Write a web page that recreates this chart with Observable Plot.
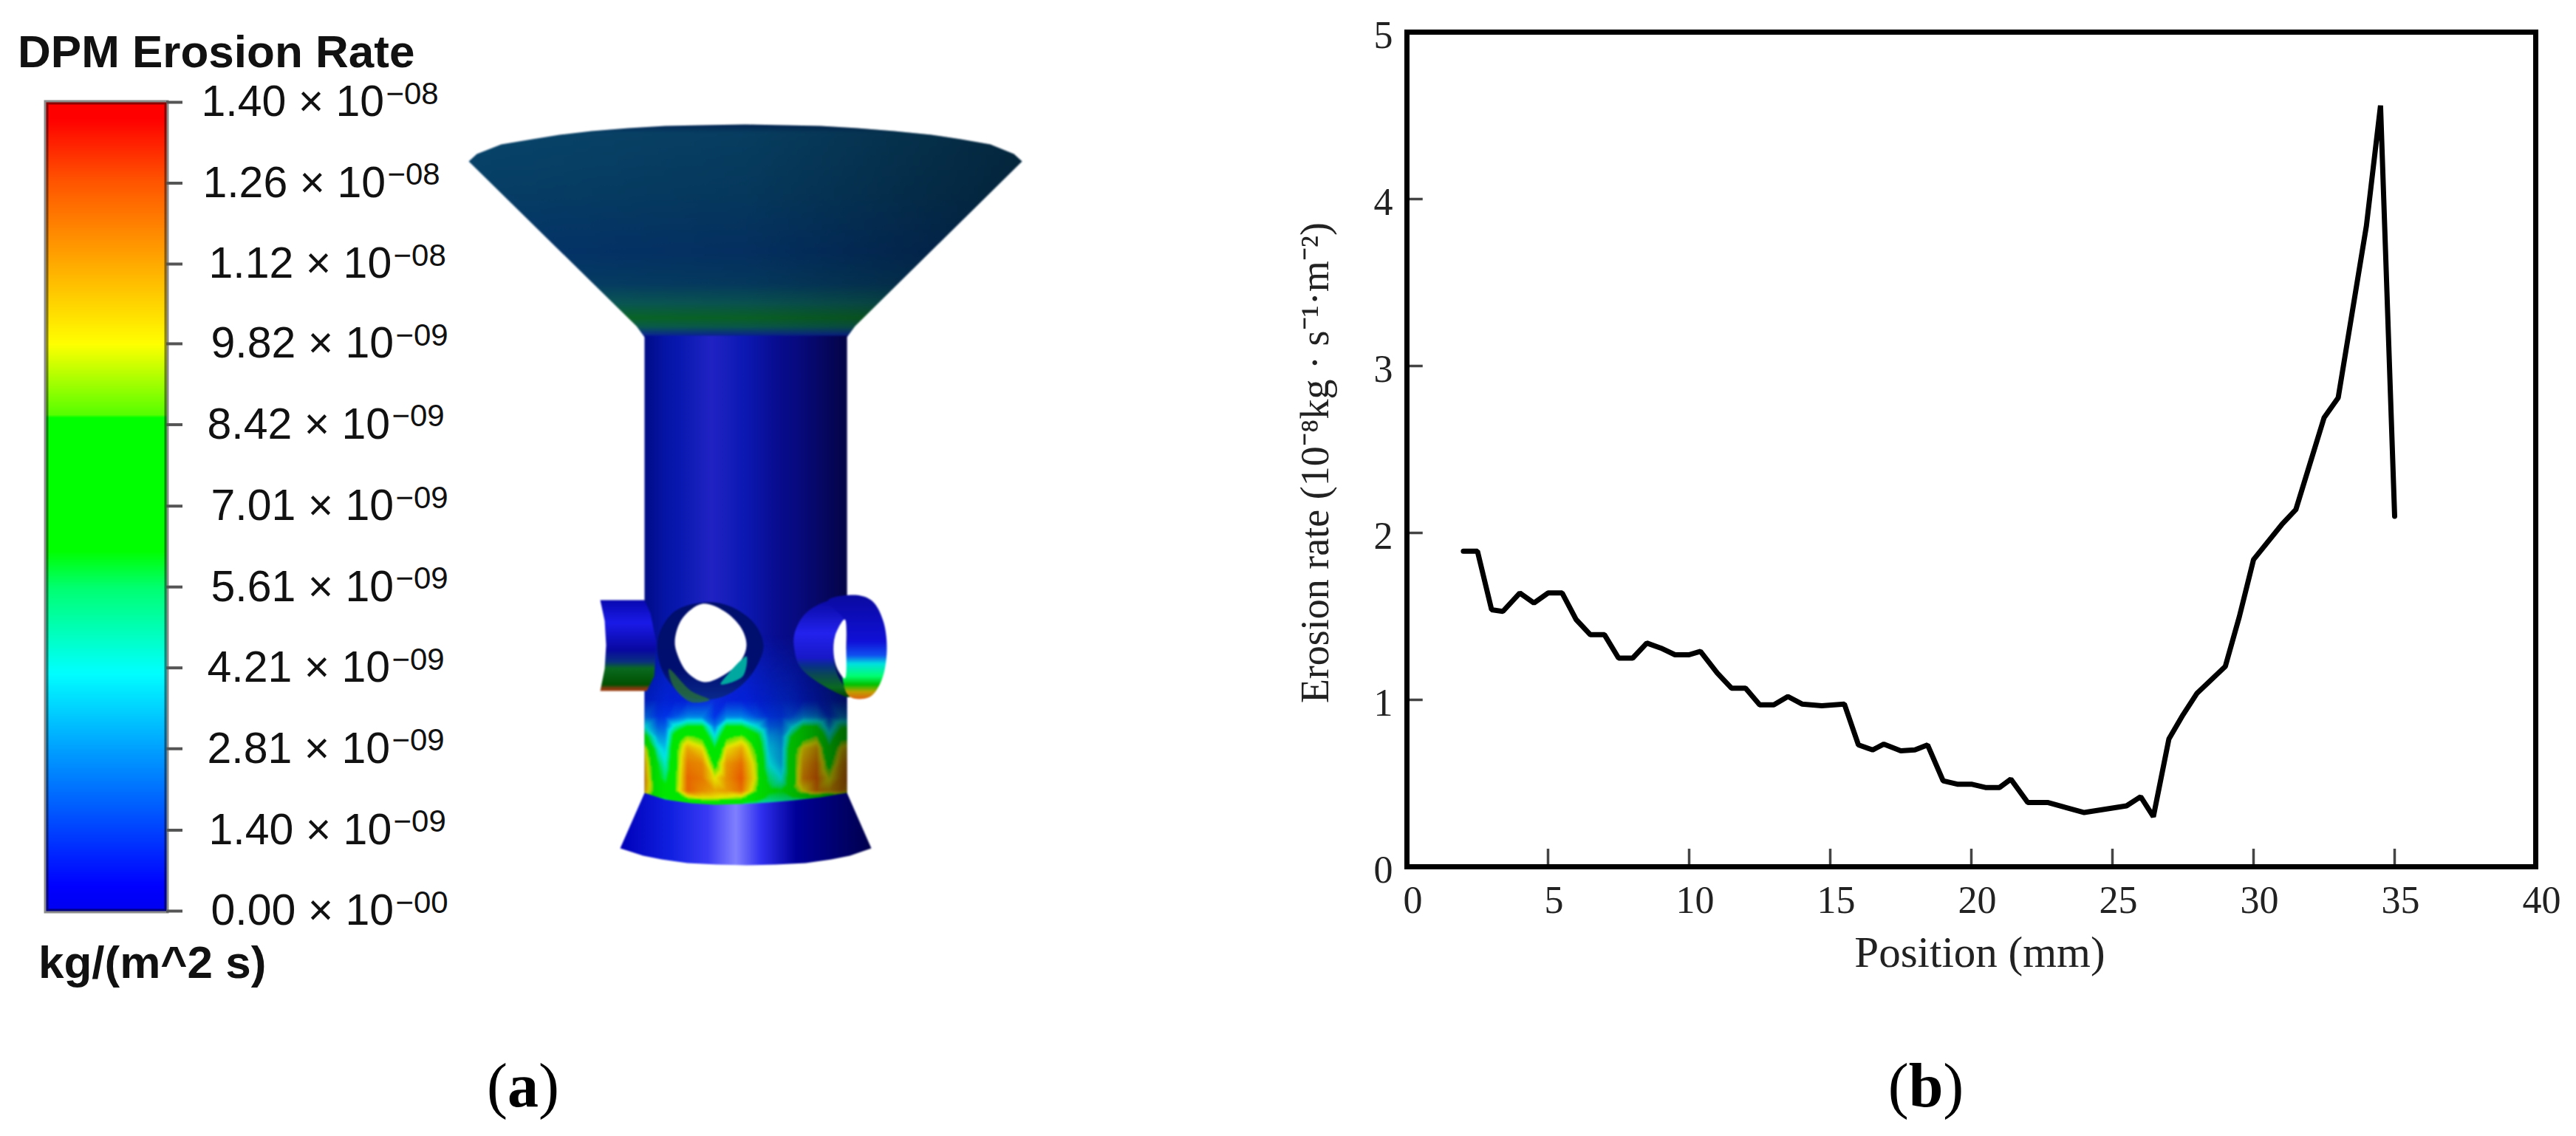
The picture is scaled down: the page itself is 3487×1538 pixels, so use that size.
<!DOCTYPE html>
<html><head><meta charset="utf-8">
<script src="https://cdn.jsdelivr.net/npm/d3@7"></script>
<script src="https://cdn.jsdelivr.net/npm/@observablehq/plot@0.6"></script>
<style>
html,body{margin:0;padding:0;background:#fff}
#page{position:relative;width:3487px;height:1538px;overflow:hidden;background:#fff}
#page>div{position:absolute}
#page svg{display:block;background:transparent}
.sans{font-family:"Liberation Sans",Arial,sans-serif;font-weight:bold;color:#111;white-space:nowrap}
.cap{font-family:"Liberation Serif",serif;font-size:84px;line-height:80px;color:#000;transform:translateX(-50%);white-space:nowrap}
</style></head><body>
<svg width="0" height="0" style="position:absolute">
<defs>
<linearGradient id="funnelV" x1="0" y1="0" x2="0" y2="1">
<stop offset="0" stop-color="#03285a"/><stop offset=".04" stop-color="#08446a"/><stop offset=".32" stop-color="#063e66"/><stop offset=".6" stop-color="#04346a"/><stop offset=".75" stop-color="#053e66"/><stop offset=".84" stop-color="#0a5a58"/><stop offset=".91" stop-color="#0a6a28"/><stop offset=".95" stop-color="#0a6050"/><stop offset=".985" stop-color="#0a3090"/><stop offset="1" stop-color="#081c9c"/>
</linearGradient>
<linearGradient id="funnelH"><stop offset="0" stop-color="#000" stop-opacity="0"/><stop offset=".5" stop-color="#000" stop-opacity=".1"/><stop offset="1" stop-color="#000" stop-opacity=".42"/></linearGradient>
<linearGradient id="cyl"><stop offset="0" stop-color="#000fa8"/><stop offset=".18" stop-color="#0a1cc4"/><stop offset=".33" stop-color="#2426d8"/><stop offset=".48" stop-color="#0e1cc8"/><stop offset=".65" stop-color="#0a10b8"/><stop offset="1" stop-color="#0a0ab0"/></linearGradient>
<linearGradient id="cylShade"><stop offset="0" stop-color="#000" stop-opacity=".2"/><stop offset=".1" stop-color="#000" stop-opacity=".1"/><stop offset=".5" stop-color="#000" stop-opacity=".1"/><stop offset=".75" stop-color="#000" stop-opacity=".3"/><stop offset="1" stop-color="#000" stop-opacity=".6"/></linearGradient>
<linearGradient id="cone"><stop offset="0" stop-color="#0000b8"/><stop offset=".2" stop-color="#1020e0"/><stop offset=".35" stop-color="#3a3af4"/><stop offset=".46" stop-color="#8080ff"/><stop offset=".56" stop-color="#3030f0"/><stop offset=".7" stop-color="#000098"/><stop offset="1" stop-color="#00004c"/></linearGradient>
<linearGradient id="tubeL" x1="0" y1="0" x2="0" y2="1"><stop offset="0" stop-color="#0808b0"/><stop offset=".25" stop-color="#1a1ae8"/><stop offset=".55" stop-color="#0808a0"/><stop offset=".68" stop-color="#0a3080"/><stop offset=".75" stop-color="#0a6a20"/><stop offset=".93" stop-color="#005000"/><stop offset=".97" stop-color="#803a10"/><stop offset="1" stop-color="#a04010"/></linearGradient>
<linearGradient id="shellR" x1="0" y1="0" x2="0" y2="1"><stop offset="0" stop-color="#0808a0"/><stop offset=".35" stop-color="#2222ee"/><stop offset=".6" stop-color="#1818c8"/><stop offset=".68" stop-color="#083088"/><stop offset=".78" stop-color="#0a4a50"/><stop offset=".9" stop-color="#0a6a20"/><stop offset="1" stop-color="#004000"/></linearGradient>
<linearGradient id="bandR" x1="0" y1="0" x2="0" y2="1"><stop offset="0" stop-color="#0a0aa0"/><stop offset=".45" stop-color="#1010d8"/><stop offset=".58" stop-color="#1050f0"/><stop offset=".66" stop-color="#00e0e0"/><stop offset=".78" stop-color="#00ff70"/><stop offset=".86" stop-color="#00c000"/><stop offset=".93" stop-color="#c0a000"/><stop offset="1" stop-color="#e06010"/></linearGradient>
<linearGradient id="ring" x1="0" y1="0" x2="0" y2="1"><stop offset="0" stop-color="#000e6c"/><stop offset=".7" stop-color="#000e70"/><stop offset="1" stop-color="#0a2a8c"/></linearGradient>
</defs>
</svg>
<div id="page">
  <div class="sans" style="left:24px;top:34px;font-size:62px;line-height:72px">DPM Erosion Rate</div>
  <div class="sans" style="left:52px;top:1268px;font-size:62px;line-height:70px">kg/(m^2 s)</div>
  <div id="bar" style="left:0;top:0"></div>
  <div id="model" style="left:600px;top:150px;filter:blur(1.1px)"></div>
  <div id="chart" style="left:1744px;top:0"></div>
  <div class="cap" style="left:708px;top:1430px">(<b>a</b>)</div>
  <div class="cap" style="left:2607px;top:1430px">(<b>b</b>)</div>
</div>
<script>
// ---------- panel (b): erosion rate along the position
const positionMm = [2,2.5,3,3.4,4,4.5,5,5.5,6,6.5,7,7.5,8,8.5,9,9.5,10,10.4,11,11.5,12,12.5,13,13.5,14,14.7,15.5,16,16.5,16.9,17.5,18,18.45,19,19.5,20,20.5,21,21.4,22,22.7,24,25.5,26,26.45,27,27.5,28,29,29.5,30,31,31.5,32.5,33,34,34.5,35];
const erosionRate = [1.89,1.89,1.54,1.53,1.64,1.58,1.64,1.64,1.48,1.39,1.39,1.25,1.25,1.34,1.31,1.27,1.27,1.29,1.16,1.07,1.07,0.97,0.97,1.02,0.975,0.965,0.975,0.73,0.70,0.735,0.695,0.70,0.73,0.515,0.495,0.495,0.475,0.475,0.525,0.385,0.385,0.325,0.365,0.42,0.30,0.765,0.91,1.04,1.20,1.5,1.84,2.05,2.14,2.69,2.81,3.84,4.56,2.10];
const xTicks = [0,5,10,15,20,25,30,35,40];
const yTicks = [0,1,2,3,4,5];
const xTitle = "Position (mm)";
const yTitle = "Erosion rate (10⁻⁸kg · s⁻¹·m⁻²)";

// ---------- panel (a): colour bar
const barTicks = [1.4,1.26,1.12,0.982,0.842,0.701,0.561,0.421,0.281,0.14,0];
const barLabels = ["1.40 × 10","1.26 × 10","1.12 × 10","9.82 × 10","8.42 × 10","7.01 × 10","5.61 × 10","4.21 × 10","2.81 × 10","1.40 × 10","0.00 × 10"];
const barExponents = ["−08","−08","−08","−09","−09","−09","−09","−09","−09","−09","−00"];
const barLabelX = [1.288,1.30,1.35,1.368,1.337,1.368,1.368,1.337,1.337,1.35,1.368];
const colorDomain = [0,0.042,0.138,0.28,0.412,0.56,0.623,0.855,0.858,0.981,1.121,1.262,1.372,1.4];
const colorRange = ["#0000f0","#0000ff","#0040ff","#00a0ff","#00ffff","#00ff70","#00ff00","#00ff00","#55ff00","#ffff00","#ffaa00","#ff5500","#ff0000","#ff0000"];
const colorScale = {type:"linear",domain:colorDomain,range:colorRange,interpolate:"rgb"};

document.getElementById("bar").append(Plot.plot({
  width:620,height:1300,marginLeft:62,marginRight:395,marginTop:138,marginBottom:67,
  x:{domain:[0,1],axis:null},y:{domain:[0,1.4],axis:null},color:colorScale,
  style:{background:"transparent",overflow:"visible"},
  marks:[
    Plot.raster({x1:0,x2:1,y1:0,y2:1.4,width:4,height:560,fill:(x,y)=>y}),
    Plot.frame({stroke:"#000",strokeOpacity:.45,strokeWidth:6}),
    Plot.ruleY(barTicks,{y:d=>d,x1:1,x2:1.135,stroke:"#555",strokeWidth:4}),
    Plot.text(barLabels,{x:(d,i)=>barLabelX[i],y:(d,i)=>barTicks[i],text:d=>d,textAnchor:"start",fontFamily:"Liberation Sans",fontSize:59,fill:"#111"}),
    Plot.text(barExponents,{x:(d,i)=>barLabelX[i],y:(d,i)=>barTicks[i],text:d=>d,textAnchor:"start",dx:250,dy:-11,fontFamily:"Liberation Sans",fontSize:42,fill:"#111"})
  ]
}));

// ---------- panel (a): erosion contour (10⁻⁸ units)
const heatX = [872,890,900,913,930,950,967,983,1003,1023,1040,1057,1070,1087,1105,1122,1138,1146];
const heatY = [860,947,970,983,997,1013,1033,1053,1070,1080,1090];
const heatOpacity = [0,.7,1,1,1,1,1,1,1,1,1];
const heatRows = [
 [.12,.12,.12,.12,.12,.12,.12,.12,.12,.12,.12,.12,.12,.12,.12,.12,.12,.12],
 [.11,.11,.11,.10,.10,.11,.12,.10,.10,.10,.11,.12,.12,.10,.10,.11,.11,.11],
 [.22,.13,.13,.18,.26,.26,.13,.26,.26,.18,.13,.13,.17,.26,.26,.13,.26,.26],
 [.42,.20,.20,.46,.62,.62,.24,.62,.62,.42,.20,.19,.36,.62,.62,.28,.58,.58],
 [.70,.30,.28,.70,.90,.82,.42,.82,.90,.70,.30,.26,.60,.78,.88,.46,.78,.80],
 [1.0,.44,.36,.78,1.1,1.0,.62,1.0,1.1,.82,.36,.30,.70,1.02,1.1,.64,1.0,1.05],
 [1.1,.60,.44,.80,1.18,1.15,.80,1.12,1.2,.92,.42,.32,.72,1.1,1.18,.78,1.1,1.15],
 [1.15,.65,.55,.82,1.22,1.18,.98,1.14,1.24,.95,.55,.42,.72,1.15,1.22,.95,1.15,1.18],
 [1.12,.72,.68,.85,1.22,1.15,1.1,1.12,1.2,.88,.65,.62,.74,1.0,1.18,1.1,1.15,1.1],
 [.65,.60,.60,.70,.90,.98,.98,.95,.90,.70,.55,.55,.55,.58,.60,.58,.50,.40],
 [.45,.45,.45,.50,.55,.60,.60,.58,.50,.45,.42,.42,.42,.42,.42,.42,.42,.42]
];
const heatPoints = heatRows.flatMap((row,j)=>row.map((v,i)=>({x:heatX[i],y:heatY[j],v,o:heatOpacity[j]})));

// ---------- panel (a): outline of the part
const funnel = [[634,218],[645,208],[678,195],[720,188],[757,182],[800,177],[850,173],[900,170],[950,169],[1008,168],[1060,169],[1110,170],[1160,173],[1210,177],[1260,182],[1300,188],[1340,195],[1372,208],[1383,218],[1157,441],[1146,456],[872,456],[861,441]];
const cylinder = [[872,454],[1146,454],[1146,1090],[872,1090]];
const ringOuter = [[953,815],[987,820],[1020,843],[1033,873],[1023,903],[1000,930],[970,945],[930,943],[903,920],[890,887],[892,857],[913,827]];
const holeWhite = [[950,817],[980,827],[1003,850],[1010,873],[1003,893],[980,913],[953,923],[930,910],[917,887],[913,867],[923,837]];
const holeRimTeal = [[1003,893],[1010,888],[1005,915],[975,926],[985,912]];
const holeRimGreen = [[905,905],[935,935],[960,947],[935,950],[912,930]];
const tubeLeft = [[812,812],[872,812],[880,830],[888,870],[885,915],[875,935],[812,935],[818,905],[820,873],[818,840]];
const shellRight = [[1075,857],[1090,830],[1120,813],[1143,812],[1143,840],[1130,860],[1128,885],[1133,913],[1150,943],[1113,927],[1083,903],[1075,880]];
const bandRight = [[1120,813],[1157,805],[1180,813],[1195,840],[1200,880],[1193,920],[1177,943],[1150,943],[1140,918],[1145,880],[1143,840]];
const holeRight = [[1143,838],[1130,860],[1128,885],[1133,905],[1143,918],[1145,880]];
const coneLower = [[872,1073],[900,1082],[935,1087],[967,1089],[1005,1088],[1040,1086],[1075,1083],[1110,1079],[1146,1073],[1179,1148],[1150,1158],[1125,1163],[1090,1168],[1050,1170],[1010,1171],[970,1170],[930,1168],[895,1163],[870,1158],[839,1148]];

const shape = (pts,fill,curve="linear",extra={}) => Plot.line(pts,{x:d=>d[0],y:d=>d[1],fill,stroke:"none",curve,...extra});

document.getElementById("model").append(Plot.plot({
  width:820,height:1060,margin:0,
  x:{domain:[600,1420],axis:null},y:{domain:[1210,150],axis:null},
  color:colorScale,opacity:{domain:[0,1],range:[0,1]},
  style:{background:"transparent"},
  marks:[
    shape(funnel,"url(#funnelV)"),
    shape(funnel,"url(#funnelH)"),
    shape(cylinder,"url(#cyl)"),
    Plot.raster(heatPoints,{x:"x",y:"y",fill:"v",fillOpacity:"o",interpolate:"barycentric",pixelSize:2,x1:872,x2:1146,y1:860,y2:1090}),
    shape(cylinder,"url(#cylShade)"),
    shape(ringOuter,"url(#ring)","catmull-rom-closed"),
    shape(holeRimGreen,"#2c7a2a","catmull-rom-closed",{fillOpacity:.7}),
    shape(holeWhite,"#fff","catmull-rom-closed"),
    shape(holeRimTeal,"#00a8a0","catmull-rom-closed"),
    shape(tubeLeft,"url(#tubeL)"),
    shape(shellRight,"url(#shellR)","catmull-rom-closed"),
    shape(bandRight,"url(#bandR)","catmull-rom-closed"),
    shape(holeRight,"#fff","catmull-rom-closed"),
    shape(coneLower,"url(#cone)")
  ]
}));

// ---------- panel (b) chart
const serif = "Liberation Serif";
document.getElementById("chart").append(Plot.plot({
  width:1743,height:1290,marginLeft:160,marginRight:55,marginTop:43,marginBottom:117,
  x:{domain:[0,40],axis:null},y:{domain:[0,5],axis:null},
  style:{background:"transparent",overflow:"visible"},
  marks:[
    Plot.ruleX(xTicks,{x:d=>d,y1:0,y2:0.106,stroke:"#444",strokeWidth:3.5}),
    Plot.ruleY(yTicks,{y:d=>d,x1:0,x2:0.57,stroke:"#444",strokeWidth:3.5}),
    Plot.line(positionMm,{x:d=>d,y:(d,i)=>erosionRate[i],stroke:"#000",strokeWidth:7,strokeLinejoin:"miter"}),
    Plot.frame({stroke:"#000",strokeWidth:7}),
    Plot.text(xTicks,{x:d=>d,frameAnchor:"bottom",lineAnchor:"middle",dx:8,dy:46,text:d=>String(d),fontFamily:serif,fontSize:52,fill:"#222"}),
    Plot.text(yTicks,{y:d=>d,frameAnchor:"left",textAnchor:"middle",lineAnchor:"middle",dx:-32,dy:5,text:d=>String(d),fontFamily:serif,fontSize:52,fill:"#222"}),
    Plot.text([xTitle],{x:20.3,frameAnchor:"bottom",lineAnchor:"middle",dy:117,text:d=>d,fontFamily:serif,fontSize:59,fill:"#222"}),
    Plot.text([yTitle],{y:2.42,frameAnchor:"left",textAnchor:"middle",lineAnchor:"middle",dx:-124,rotate:-90,text:d=>d,fontFamily:serif,fontSize:54,fill:"#222"})
  ]
}));
</script>
</body></html>
